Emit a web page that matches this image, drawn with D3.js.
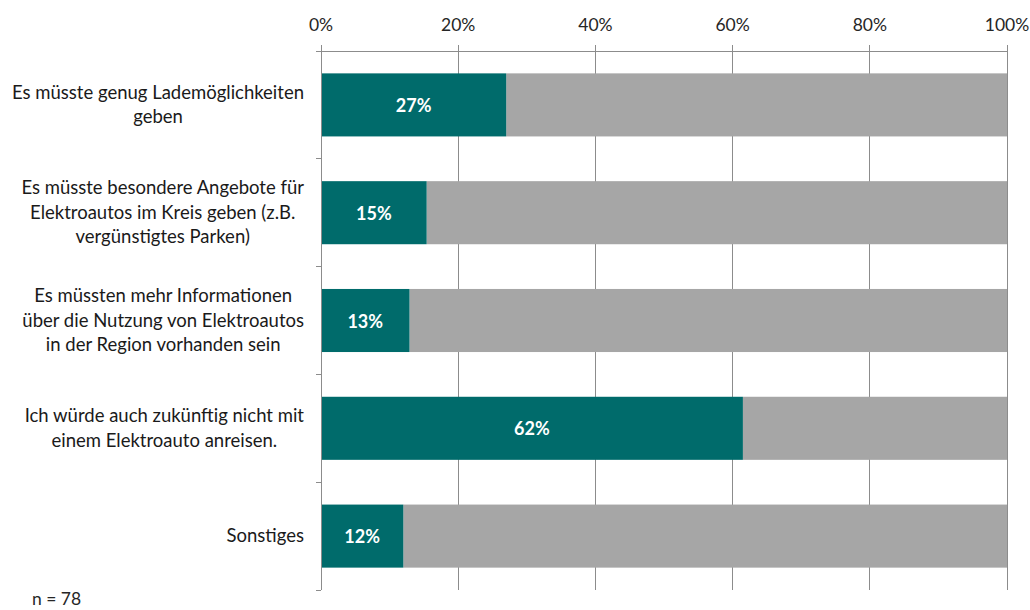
<!DOCTYPE html>
<html>
<head>
<meta charset="utf-8">
<script src="https://cdn.jsdelivr.net/npm/d3@7"></script>
<style>
  body { margin: 0; background: #fff; }
  text { font-family: Lato, "Open Sans", sans-serif; }
</style>
</head>
<body>
<script>
// categories, one entry per row, line breaks as in the original
const categories = [
  ["Es müsste genug Lademöglichkeiten", "geben"],
  ["Es müsste besondere Angebote für", "Elektroautos im Kreis geben (z.B.", "vergünstigtes Parken)"],
  ["Es müssten mehr Informationen", "über die Nutzung von Elektroautos", "in der Region vorhanden sein"],
  ["Ich würde auch zukünftig nicht mit", "einem Elektroauto anreisen."],
  ["Sonstiges"]
];
const values = [27, 15.4, 12.9, 61.5, 12];
const tickValues = [0, 20, 40, 60, 80, 100];
const note = "n = 78";

const width = 1030, height = 610;
const margin = {top: 51, left: 321, right: 23, bottom: 20};

const svg = d3.select("body").append("svg")
  .attr("width", width)
  .attr("height", height);

const x = d3.scaleLinear().domain([0, 100]).range([margin.left, width - margin.right]);
const y = d3.scaleBand()
  .domain(d3.range(categories.length))
  .range([margin.top, 590])
  .paddingInner(0.415)
  .paddingOuter(0.2075);

const axisColor = "#8c8c8c";

// vertical grid lines (also act as axis ticks on top)
svg.append("g").selectAll("line")
  .data(tickValues)
  .join("line")
  .attr("x1", d => x(d)).attr("x2", d => x(d))
  .attr("y1", margin.top - 6).attr("y2", 590)
  .attr("stroke", axisColor)
  .attr("stroke-width", 1)
  .attr("shape-rendering", "crispEdges");

// top axis line
svg.append("line")
  .attr("x1", x(0) - 5).attr("x2", x(100))
  .attr("y1", margin.top).attr("y2", margin.top)
  .attr("stroke", axisColor)
  .attr("shape-rendering", "crispEdges");

// left axis ticks at category boundaries
const step = y.step();
const bounds = d3.range(categories.length + 1).map(i => margin.top + i * step);
svg.append("g").selectAll("line")
  .data(bounds)
  .join("line")
  .attr("x1", x(0) - 5).attr("x2", x(0))
  .attr("y1", d => d).attr("y2", d => d)
  .attr("stroke", axisColor)
  .attr("shape-rendering", "crispEdges");

// tick labels
svg.append("g").selectAll("text")
  .data(tickValues)
  .join("text")
  .attr("x", d => x(d))
  .attr("y", 31)
  .attr("text-anchor", "middle")
  .attr("font-size", 17.5)
  .attr("fill", "#262626")
  .text(d => d + "%");

// gray remainder bars
svg.append("g").selectAll("rect")
  .data(values)
  .join("rect")
  .attr("x", d => x(d))
  .attr("y", (d, i) => y(i))
  .attr("width", d => x(100) - x(d))
  .attr("height", y.bandwidth())
  .attr("fill", "#a6a6a6");

// teal bars
svg.append("g").selectAll("rect")
  .data(values)
  .join("rect")
  .attr("x", x(0))
  .attr("y", (d, i) => y(i))
  .attr("width", d => x(d) - x(0))
  .attr("height", y.bandwidth())
  .attr("fill", "#006b6b");

// redraw left axis line over the bars
svg.append("line")
  .attr("x1", x(0)).attr("x2", x(0))
  .attr("y1", margin.top - 6).attr("y2", 590)
  .attr("stroke", axisColor)
  .attr("shape-rendering", "crispEdges");

// value labels
svg.append("g").selectAll("text")
  .data(values)
  .join("text")
  .attr("x", d => (x(0) + x(d)) / 2)
  .attr("y", (d, i) => y(i) + y.bandwidth() / 2 + 7)
  .attr("text-anchor", "middle")
  .attr("font-size", 18)
  .attr("font-weight", "bold")
  .attr("fill", "#fff")
  .text(d => Math.round(d) + "%");

// category labels, centered block, widest line flush at right
const lineH = 24.5;
const labels = svg.append("g");
categories.forEach((lines, i) => {
  const t = labels.append("text")
    .attr("font-size", 18.5)
    .attr("fill", "#1a1a1a")
    .attr("text-anchor", "middle");
  const cy = y(i) + y.bandwidth() / 2;
  const y0 = cy - (lines.length - 1) * lineH / 2 + 6;
  lines.forEach((s, j) => {
    t.append("tspan").attr("y", y0 + j * lineH).text(s);
  });
  let maxW = 0;
  t.selectAll("tspan").each(function () {
    maxW = Math.max(maxW, this.getComputedTextLength());
  });
  t.selectAll("tspan").attr("x", 304 - maxW / 2);
});

// sample size note
svg.append("text")
  .attr("x", 32)
  .attr("y", 605)
  .attr("font-size", 17.5)
  .attr("fill", "#262626")
  .text(note);
</script>
</body>
</html>
